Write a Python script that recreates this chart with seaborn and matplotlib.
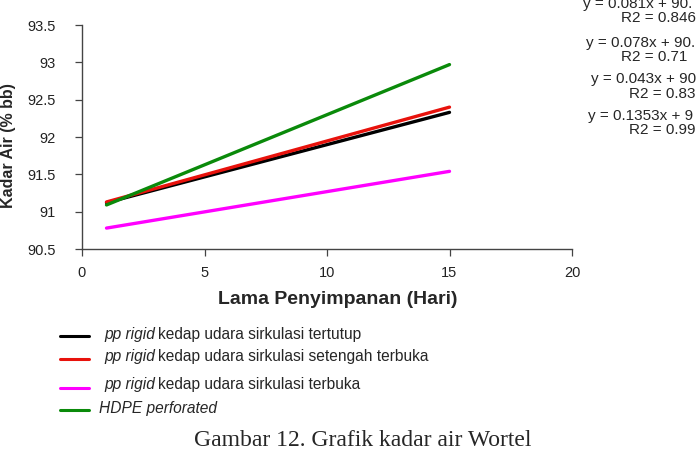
import pandas as pd
import seaborn as sns
import matplotlib.pyplot as plt
from matplotlib.lines import Line2D

# data (trend lines, day 1 -> day 15)
days = [1, 15]
tertutup = [91.12, 92.33]
setengah = [91.13, 92.40]
terbuka = [90.78, 91.54]
hdpe = [91.09, 92.97]

series_names = ["tertutup", "setengah", "terbuka", "hdpe"]
colors = ["#000000", "#e8120c", "#ff00ff", "#0a8a0a"]
legend_text = [
    "kedap udara sirkulasi tertutup",
    "kedap udara sirkulasi setengah terbuka",
    "kedap udara sirkulasi terbuka",
    "HDPE perforated",
]
equations = [
    ("y = 0.081x + 90.", "R2 = 0.846"),
    ("y = 0.078x + 90.", "R2 = 0.71"),
    ("y = 0.043x + 90", "R2 = 0.83"),
    ("y = 0.1353x + 9", "R2 = 0.99"),
]

df = pd.DataFrame({
    "hari": days * 4,
    "kadar": tertutup + setengah + terbuka + hdpe,
    "seri": [s for s in series_names for _ in days],
})

sns.set_style("ticks")
plt.rcParams["font.family"] = ["Liberation Sans", "DejaVu Sans"]

W, H = 699, 474
fig = plt.figure(figsize=(6.99, 4.74), dpi=100)
ax = fig.add_axes([82 / W, 1 - 249 / H, (572 - 82) / W, (249 - 25) / H])

sns.lineplot(data=df, x="hari", y="kadar", hue="seri", hue_order=series_names,
             palette=colors, linewidth=2.4, legend=False, ax=ax)

ax.set_xlim(0, 20)
ax.set_ylim(90.5, 93.5)
ax.set_xticks([0, 5, 10, 15, 20])
ax.set_yticks([90.5, 91, 91.5, 92, 92.5, 93, 93.5])
ax.set_yticklabels(["90.5", "91", "91.5", "92", "92.5", "93", "93.5"])
ax.tick_params(labelsize=10.5, length=5, width=0.9, colors="#444444", labelcolor="#222222")
ax.tick_params(axis="y", pad=14)
ax.tick_params(axis="x", pad=7)
ax.set_xlabel("Lama Penyimpanan (Hari)", fontsize=14, fontweight="bold")
ax.set_ylabel("Kadar Air (% bb)", fontsize=11.5, fontweight="bold")
ax.xaxis.set_label_coords((338 - 82) / (572 - 82), -(291 - 249) / (249 - 25))
ax.yaxis.set_label_coords(-(82 - 16) / (572 - 82), (249 - 146) / (249 - 25))
for s in ["left", "bottom"]:
    ax.spines[s].set_color("#444444")
    ax.spines[s].set_linewidth(1.0)
sns.despine(ax=ax)

# regression equations on the right (cut off by the page edge, as in the source)
eq_rows = [(583, 4, 621, 18), (586, 43, 621, 57), (591, 79, 629, 94), (588, 116, 629, 130)]
for (e, r), (ex, ey, rx, ry) in zip(equations, eq_rows):
    fig.text(ex / W, 1 - ey / H, e, fontsize=11, va="center", ha="left")
    fig.text(rx / W, 1 - ry / H, r, fontsize=11, va="center", ha="left")

# legend drawn by hand below the plot
line_y = [336, 359, 388, 410]
text_y = [334, 356, 385, 409]
renderer = fig.canvas.get_renderer()
for c, txt, ly, ty in zip(colors, legend_text, line_y, text_y):
    fig.add_artist(Line2D([60 / W, 89 / W], [1 - ly / H, 1 - ly / H], color=c,
                          linewidth=2.2, transform=fig.transFigure))
    yf = 1 - ty / H
    if txt.startswith("HDPE"):
        fig.text(99 / W, yf, txt, fontsize=11.2, style="italic", va="center")
    else:
        t = fig.text(104 / W, yf, "pp rigid", fontsize=11.2, style="italic", va="center")
        x1 = t.get_window_extent(renderer).x1
        fig.text((x1 + 3) / W, yf, txt, fontsize=11.2, va="center")

fig.text(363 / W, 1 - 440 / H, "Gambar 12. Grafik kadar air Wortel",
         fontsize=17, family=["Liberation Serif", "DejaVu Serif"], ha="center", va="center")

fig.savefig("out.png", dpi=100)
